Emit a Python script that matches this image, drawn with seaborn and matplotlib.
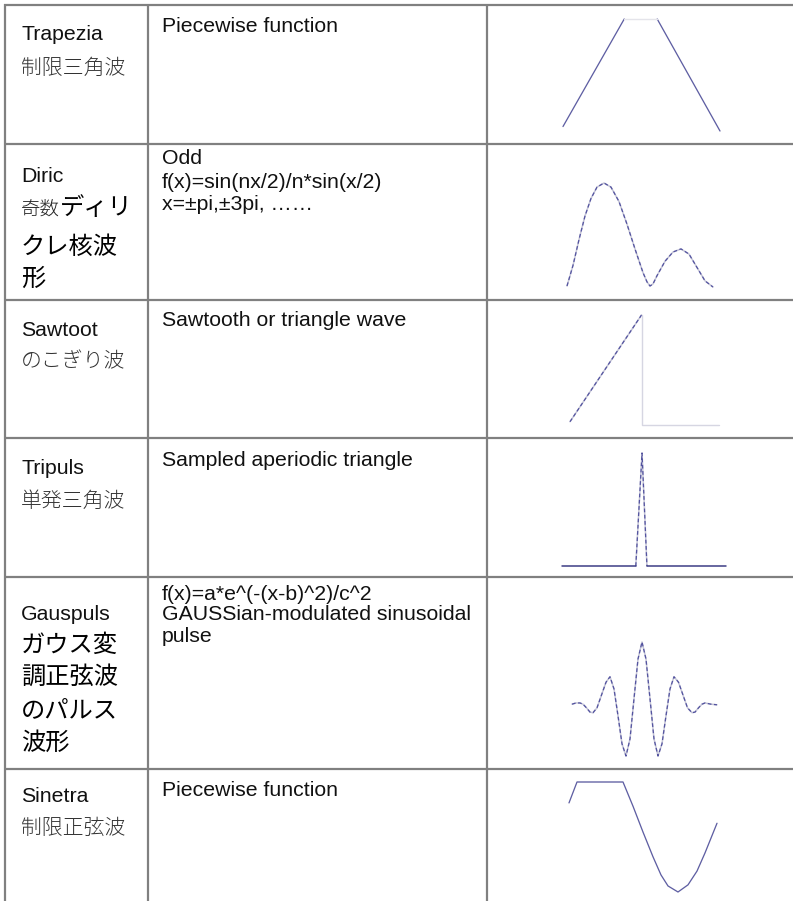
import matplotlib
matplotlib.use("Agg")
import matplotlib.pyplot as plt
import seaborn as sns

# --- data ---
nombres = ["Trapezia", "Diric", "Sawtoot", "Tripuls", "Gauspuls", "Sinetra"]
nombres_jp = [["制限三角波"], ["奇数", "ディリ", "クレ核波", "形"], ["のこぎり波"],
              ["単発三角波"], ["ガウス変", "調正弦波", "のパルス", "波形"], ["制限正弦波"]]
descripciones = [["Piecewise function"],
                 ["Odd", "f(x)=sin(nx/2)/n*sin(x/2)", "x=±pi,±3pi, ……"],
                 ["Sawtooth or triangle wave"],
                 ["Sampled aperiodic triangle"],
                 ["f(x)=a*e^(-(x-b)^2)/c^2", "GAUSSian-modulated sinusoidal", "pulse"],
                 ["Piecewise function"]]

trap_t = [0, 0.39, 0.60, 1.0]
trap_v = [0.04, 1.0, 1.0, 0.0]

diric_n = [0, 6, 12, 18, 24, 30, 37, 44, 52, 60, 68, 76, 80, 83, 86, 90, 98, 106, 114, 122, 130, 138, 146]
diric_v = [0.0, 0.2, 0.45, 0.68, 0.85, 0.96, 1.0, 0.96, 0.82, 0.6, 0.36, 0.13, 0.04, 0.0, 0.02,
           0.1, 0.24, 0.33, 0.36, 0.31, 0.18, 0.05, -0.01]

saw_t = [0, 0.48, 0.48, 1.0]
saw_v = [0.03, 1.0, 0.0, 0.0]

tri_t = [0, 0.45, 0.488, 0.518, 1.0]
tri_v = [0, 0, 1, 0, 0]

gaus_t = [-70, -66, -62, -59, -55.5, -52, -49, -45, -40.5, -36, -32, -28, -24, -20, -16, -12, -8, -4, 0,
          4, 8, 12, 16, 20, 24, 28, 32, 36.5, 41, 45.5, 50, 53, 56.5, 60, 63, 69, 75]
gaus_v = [-0.02, 0, 0, -0.02, -0.08, -0.15, -0.16, -0.08, 0.13, 0.34, 0.43, 0.23, -0.21, -0.67, -0.87,
          -0.59, 0.07, 0.72, 1.0, 0.72, 0.07, -0.59, -0.87, -0.67, -0.21, 0.23, 0.43, 0.34, 0.13,
          -0.08, -0.16, -0.15, -0.08, -0.02, 0, -0.02, -0.03]

sine_t = [0, 8, 54, 64, 74, 84, 92, 99, 109, 119, 128, 136, 142, 148]
sine_v = [0.62, 1.0, 1.0, 0.56, 0.09, -0.36, -0.69, -0.89, -1.0, -0.87, -0.62, -0.29, -0.02, 0.25]

# --- figure ---
W, H = 793, 901
sns.set_theme(style="white")
plt.rcParams['font.family'] = ['Liberation Sans', 'Noto Sans CJK JP', 'DejaVu Sans']

fig = plt.figure(figsize=(W / 100, H / 100), dpi=100)
ax = fig.add_axes([0, 0, 1, 1])
ax.set_xlim(0, W)
ax.set_ylim(H, 0)
ax.axis('off')

gris = '#808080'
filas = [5, 144, 300, 438, 577, 769]
for y in filas:
    ax.plot([4, W + 5], [y, y], color=gris, lw=1.6, solid_capstyle='butt')
for x in [5, 148, 487]:
    ax.plot([x, x], [4, H + 5], color=gris, lw=1.6, solid_capstyle='butt')

# column 1 / column 2 text positions (centre y, px)
y_nombre = [35, 177, 330, 469, 614, 797]
y_jp = [[68], [209, 247, 279], [361], [501], [645, 677, 710, 743], [828]]
y_desc = [[27], [159, 182, 204], [320], [460], [594, 615, 636], [790]]

fs_lat = 15.3
fs_jp_big = 17.5
jp_fam = ['Noto Sans CJK JP', 'DejaVu Sans']
for i in range(6):
    ax.text(21, y_nombre[i], nombres[i], fontsize=fs_lat, va='center', ha='left', color='#111111')
    for linea, y in zip(descripciones[i], y_desc[i]):
        ax.text(162, y, linea, fontsize=fs_lat, va='center', ha='left', color='#111111')
    lineas = nombres_jp[i]
    if i == 1:
        ax.text(21, y_jp[i][0], lineas[0], fontsize=14, va='center', ha='left',
                family=jp_fam, fontweight='light', color='#222222')
        ax.text(60, y_jp[i][0] - 1, lineas[1], fontsize=fs_jp_big, va='center', ha='left',
                family=jp_fam, color='#000000')
        for linea, y in zip(lineas[2:], y_jp[i][1:]):
            ax.text(21, y, linea, fontsize=fs_jp_big, va='center', ha='left',
                    family=jp_fam, color='#000000')
    elif i == 4:
        for linea, y in zip(lineas, y_jp[i]):
            ax.text(21, y, linea, fontsize=fs_jp_big, va='center', ha='left',
                    family=jp_fam, color='#000000')
    else:
        ax.text(21, y_jp[i][0], lineas[0], fontsize=15, va='center', ha='left',
                family=jp_fam, fontweight='light', color='#333333')


def celda(x0, x1, y0, y1, xlim, ylim):
    a = fig.add_axes([x0 / W, 1 - y1 / H, (x1 - x0) / W, (y1 - y0) / H])
    a.set_xlim(*xlim)
    a.set_ylim(*ylim)
    a.axis('off')
    return a


azul = '#5353a0'
claro = '#c4c4d6'


def onda(a, x, y, dashed=True, lw=0.9):
    sns.lineplot(x=x, y=y, ax=a, color=claro, linewidth=1.1, sort=False, estimator=None, clip_on=False)
    sns.lineplot(x=x, y=y, ax=a, color=azul, linewidth=lw, sort=False, estimator=None, clip_on=False,
                 linestyle=(0, (3, 2)) if dashed else '-')


# trapezia
a = celda(563, 720, 19, 131, (0, 1), (0, 1))
onda(a, trap_t[:2], trap_v[:2], dashed=False, lw=0.7)
onda(a, trap_t[2:], trap_v[2:], dashed=False, lw=0.7)
sns.lineplot(x=trap_t[1:3], y=trap_v[1:3], ax=a, color='#e4e4ea', linewidth=1.0, sort=False,
             estimator=None, clip_on=False)

# diric
a = celda(567, 713, 183, 286, (0, 146), (0, 1))
onda(a, diric_n, diric_v)

# sawtooth
a = celda(570, 719, 315, 425, (0, 1), (0, 1))
onda(a, saw_t[:2], saw_v[:2])
sns.lineplot(x=saw_t[1:], y=saw_v[1:], ax=a, color='#d6d6e2', linewidth=1.0, sort=False,
             estimator=None, clip_on=False)

# tripuls
a = celda(562, 726, 453, 566, (0, 1), (0, 1))
onda(a, tri_t[1:4], tri_v[1:4])
sns.lineplot(x=tri_t[:2], y=tri_v[:2], ax=a, color='#3d3d85', linewidth=1.1, estimator=None, clip_on=False)
sns.lineplot(x=tri_t[3:], y=tri_v[3:], ax=a, color='#3d3d85', linewidth=1.1, estimator=None, clip_on=False)

# gauspuls
a = celda(572, 717, 642, 756, (-70, 75), (-0.87, 1.0))
onda(a, gaus_t, gaus_v)

# sinetra
a = celda(569, 717, 782, 892, (0, 148), (-1, 1))
onda(a, sine_t, sine_v, dashed=False, lw=0.7)

fig.savefig('out.png', dpi=100)
